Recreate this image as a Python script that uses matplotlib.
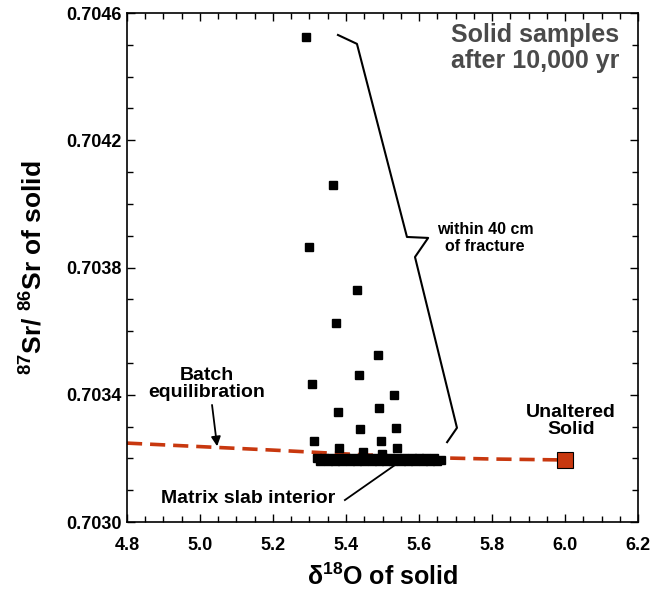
import matplotlib.pyplot as plt
from matplotlib.ticker import MultipleLocator, FixedLocator, FormatStrFormatter

plt.rcParams['font.family'] = ['Liberation Sans', 'DejaVu Sans']
plt.rcParams['font.weight'] = 'bold'
plt.rcParams['mathtext.fontset'] = 'custom'
plt.rcParams['mathtext.rm'] = 'Liberation Sans:bold'
plt.rcParams['mathtext.bf'] = 'Liberation Sans:bold'
plt.rcParams['mathtext.default'] = 'bf'

# solid samples within 40 cm of fracture
frac_x = [5.29, 5.364, 5.299, 5.430, 5.373, 5.488, 5.307, 5.436, 5.532, 5.378,
          5.490, 5.438, 5.537, 5.312, 5.381, 5.496, 5.447, 5.499, 5.540]
frac_y = [0.704525, 0.704059, 0.703865, 0.703729, 0.703626, 0.703525, 0.703434,
          0.703462, 0.703399, 0.703346, 0.703358, 0.703292, 0.703296, 0.703255,
          0.703233, 0.703255, 0.703220, 0.703214, 0.703233]

# matrix slab interior samples
matrix_x = [5.32, 5.33, 5.34, 5.35, 5.36, 5.37, 5.38, 5.39, 5.40, 5.41, 5.42, 5.43,
            5.44, 5.45, 5.46, 5.47, 5.48, 5.49, 5.50, 5.51, 5.52, 5.53, 5.54, 5.55,
            5.56, 5.57, 5.58, 5.59, 5.60, 5.61, 5.62, 5.63, 5.64, 5.65, 5.66]
matrix_y = [0.703200, 0.703192, 0.703200, 0.703192, 0.703200, 0.703192, 0.703200,
            0.703192, 0.703200, 0.703192, 0.703200, 0.703192, 0.703200, 0.703192,
            0.703200, 0.703192, 0.703200, 0.703192, 0.703200, 0.703192, 0.703200,
            0.703192, 0.703200, 0.703192, 0.703200, 0.703192, 0.703200, 0.703192,
            0.703200, 0.703192, 0.703200, 0.703192, 0.703200, 0.703192, 0.703196]

# batch equilibration curve
batch_x = [4.80, 5.00, 5.20, 5.40, 5.60, 5.80, 6.00]
batch_y = [0.703248, 0.703237, 0.703226, 0.703214, 0.703203, 0.703198, 0.703195]

# unaltered solid
unaltered_x = [6.00]
unaltered_y = [0.703195]

# bracket marking the fracture-zone samples
bracket_x = [5.378, 5.430, 5.567, 5.625, 5.589, 5.704, 5.677]
bracket_y = [0.704531, 0.704503, 0.703896, 0.703893, 0.703833, 0.703296, 0.703251]

y_ticks = [0.7030, 0.7034, 0.7038, 0.7042, 0.7046]

fig = plt.figure(figsize=(6.69, 6.00), dpi=100)
ax = fig.add_axes([0.1898, 0.13, 0.7639, 0.8483])

red = '#C8380F'
ax.plot(batch_x, batch_y, color=red, lw=2.6, dashes=(4.2, 2.2), zorder=2)
ax.plot(matrix_x, matrix_y, 's', color='black', ms=6.2, zorder=3)
ax.plot(frac_x, frac_y, 's', color='black', ms=6.2, zorder=3)
ax.plot(unaltered_x, unaltered_y, 's', color=red, mec='black', mew=0.8, ms=11.5, zorder=4)
ax.plot(bracket_x, bracket_y, color='black', lw=1.5, zorder=3)

# annotations
ax.text(6.148, 0.704489, 'Solid samples\nafter 10,000 yr', ha='right', va='center',
        fontsize=18, fontweight='bold', color='#4a4a4a', linespacing=1.12)
ax.text(5.781, 0.703893, 'within 40 cm\nof fracture', ha='center', va='center',
        fontsize=11.5, fontweight='bold', linespacing=1.1)
ax.text(5.018, 0.703435, 'Batch\nequilibration', ha='center', va='center',
        fontsize=14, fontweight='bold', linespacing=1.0)
ax.annotate('', xy=(5.047, 0.703238), xytext=(5.033, 0.703368),
            arrowprops=dict(arrowstyle='-|>', color='black', lw=1.3,
                            mutation_scale=14, shrinkA=0, shrinkB=0))
ax.text(6.016, 0.703316, 'Unaltered\nSolid', ha='center', va='center',
        fontsize=14, fontweight='bold', linespacing=1.0)
ax.text(5.37, 0.703075, 'Matrix slab interior', ha='right', va='center',
        fontsize=14, fontweight='bold')
ax.plot([5.397, 5.534], [0.703069, 0.703179], color='black', lw=1.3)

ax.set_xlim(4.8, 6.2)
ax.set_ylim(0.7030, 0.7046)
ax.xaxis.set_major_locator(MultipleLocator(0.2))
ax.xaxis.set_minor_locator(MultipleLocator(0.05))
ax.yaxis.set_major_locator(FixedLocator(y_ticks))
ax.yaxis.set_minor_locator(MultipleLocator(0.0001))
ax.xaxis.set_major_formatter(FormatStrFormatter('%.1f'))
ax.yaxis.set_major_formatter(FormatStrFormatter('%.4f'))
ax.tick_params(which='both', direction='in', top=True, right=True, width=1)
ax.tick_params(which='major', length=6, labelsize=13)
ax.tick_params(which='minor', length=4)
ax.tick_params(axis='x', which='major', pad=11)
for lab in ax.get_xticklabels() + ax.get_yticklabels():
    lab.set_fontweight('bold')
for sp in ax.spines.values():
    sp.set_linewidth(1.2)

ax.set_xlabel(r'$\delta^{18}$O of solid', fontsize=18, fontweight='bold', labelpad=7)
ax.set_ylabel(r'$^{87}$Sr/ $^{86}$Sr of solid', fontsize=19, fontweight='bold', labelpad=14)

fig.savefig('out.png', dpi=100)
